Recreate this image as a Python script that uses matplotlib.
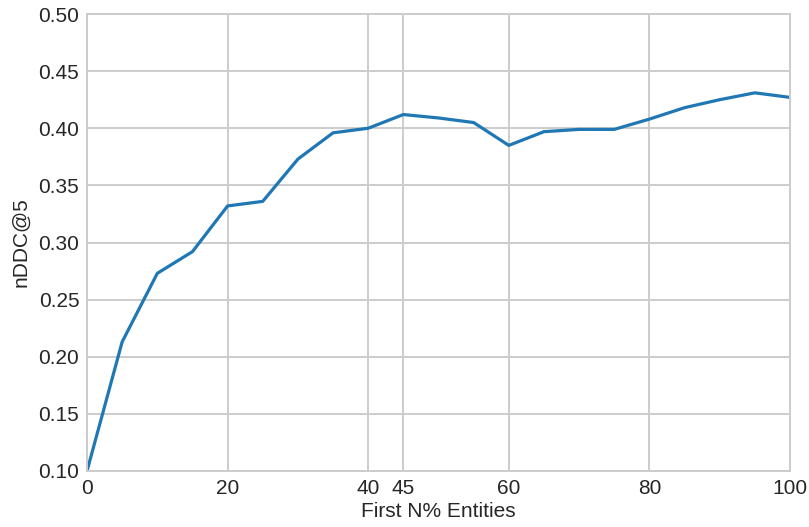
import matplotlib
matplotlib.use('Agg')
import matplotlib.pyplot as plt
import seaborn as sns

# data
percent = [0, 5, 10, 15, 20, 25, 30, 35, 40, 45, 50, 55, 60, 65, 70, 75, 80, 85, 90, 95, 100]
ndcg = [0.100, 0.213, 0.273, 0.292, 0.332, 0.336, 0.373, 0.396, 0.400, 0.412, 0.409, 0.405,
        0.385, 0.397, 0.399, 0.399, 0.408, 0.418, 0.425, 0.431, 0.427]
x_ticks = [0, 20, 40, 45, 60, 80, 100]

sns.set_style('whitegrid')
plt.rcParams['font.family'] = ['Liberation Sans', 'DejaVu Sans']

fig = plt.figure(figsize=(8.09, 5.27), dpi=100)
ax = fig.add_axes([87 / 809, 1 - 471 / 527, (790 - 87) / 809, (471 - 14) / 527])

ax.plot(percent, ndcg, color='#1f77b4', linewidth=2.3)

ax.set_xlim(0, 100)
ax.set_ylim(0.10, 0.50)
ax.set_xticks(x_ticks)
ax.set_yticks([0.10, 0.15, 0.20, 0.25, 0.30, 0.35, 0.40, 0.45, 0.50])
ax.set_yticklabels([f'{v:.2f}' for v in ax.get_yticks()])
ax.tick_params(labelsize=15, pad=2, colors='#262626')
ax.grid(color='#cccccc', linewidth=1.4)
ax.set_xlabel('First N% Entities', fontsize=15, color='#262626', labelpad=3)
ax.set_ylabel('nDDC@5', fontsize=15, color='#262626', labelpad=6)
for s in ax.spines.values():
    s.set_color('#cccccc')
    s.set_linewidth(1.4)

fig.savefig('out.png', dpi=100)
